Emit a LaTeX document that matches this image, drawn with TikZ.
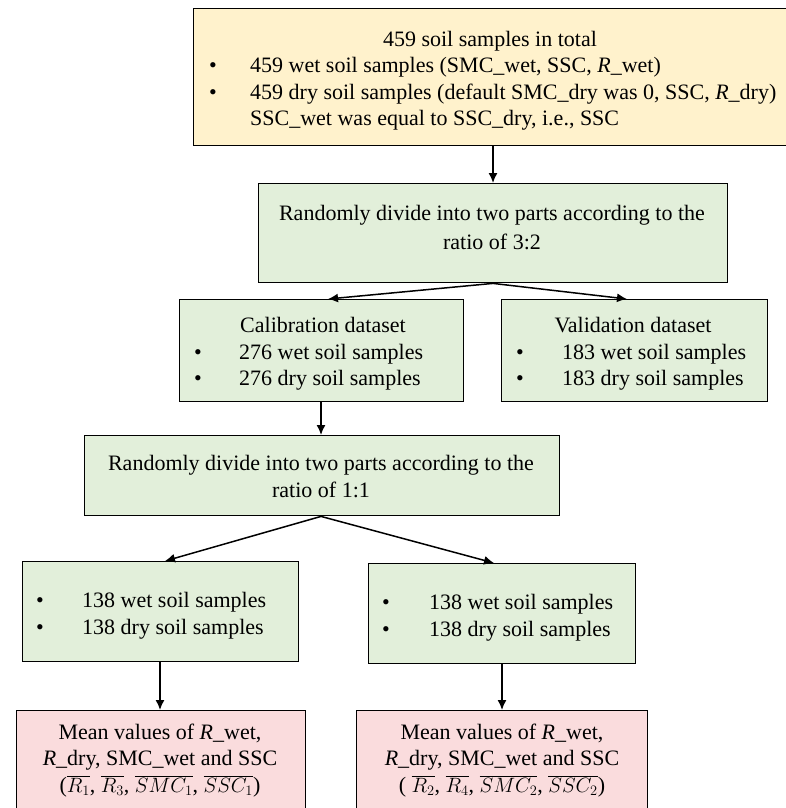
\documentclass[tikz,border=0pt]{standalone}
\usepackage{fontspec}
\setmainfont{Liberation Serif}
\usetikzlibrary{arrows.meta}
\definecolor{yellowfill}{HTML}{FFF2CC}
\definecolor{greenfill}{HTML}{E2EFDA}
\definecolor{pinkfill}{HTML}{FADCDD}
\tikzset{
  boxbase/.style={draw=black, line width=1.4pt, inner sep=0pt},
  ybox/.style={boxbase, fill=yellowfill},
  gbox/.style={boxbase, fill=greenfill},
  pbox/.style={boxbase, fill=pinkfill},
  txt/.style={inner sep=0pt, anchor=base, font=\fontsize{22}{26}\selectfont},
  txtl/.style={txt, anchor=base west},
  arr/.style={-{Latex[length=10pt,width=9pt]}, line width=1.5pt},
}
\begin{document}
\begin{tikzpicture}[x=1pt,y=-1pt]
\useasboundingbox (0,0) rectangle (785,808);
% boxes
\node[ybox, minimum width=597pt, minimum height=137pt, anchor=north west] (top) at (193,8) {};
\node[gbox, minimum width=469pt, minimum height=99pt, anchor=north west] (split) at (258,183) {};
\node[gbox, minimum width=284pt, minimum height=102pt, anchor=north west] (cal) at (179,299) {};
\node[gbox, minimum width=266pt, minimum height=102pt, anchor=north west] (val) at (501,299) {};
\node[gbox, minimum width=475pt, minimum height=80pt, anchor=north west] (splitb) at (84,435) {};
\node[gbox, minimum width=276pt, minimum height=100pt, anchor=north west] (left) at (22,561) {};
\node[gbox, minimum width=267pt, minimum height=100pt, anchor=north west] (right) at (368,563) {};
\node[pbox, minimum width=289pt, minimum height=120pt, anchor=north west] (meanl) at (16,710) {};
\node[pbox, minimum width=291pt, minimum height=120pt, anchor=north west] (meanr) at (356,710) {};
% top texts
\node[txt] (t0) at (490,47) {459 soil samples in total};
\node[txtl] (t1b) at (209,73) {\textbullet};
\node[txtl] (t1) at (250,73) {459 wet soil samples (SMC\_wet, SSC, \textit{R}\_wet)};
\node[txtl] (t2b) at (209,99) {\textbullet};
\node[txtl] (t2) at (250,99) {459 dry soil samples (default SMC\_dry was 0, SSC, \textit{R}\_dry)};
\node[txtl] (t3) at (250,125) {SSC\_wet was equal to SSC\_dry, i.e., SSC};
% split texts
\node[txt] (s1) at (492,220) {Randomly divide into two parts according to the};
\node[txt] (s2) at (492,249) {ratio of 3:2};
% calibration
\node[txt] (c0) at (323,332) {Calibration dataset};
\node[txtl] (c1b) at (194,359) {\textbullet};
\node[txtl] (c1) at (239,359) {276 wet soil samples};
\node[txtl] (c2b) at (194,385) {\textbullet};
\node[txtl] (c2) at (239,385) {276 dry soil samples};
% validation
\node[txt] (v0) at (633,332) {Validation dataset};
\node[txtl] (v1b) at (516,359) {\textbullet};
\node[txtl] (v1) at (562,359) {183 wet soil samples};
\node[txtl] (v2b) at (516,385) {\textbullet};
\node[txtl] (v2) at (562,385) {183 dry soil samples};
% split 1:1
\node[txt] (b1) at (321,470) {Randomly divide into two parts according to the};
\node[txt] (b2) at (321,497) {ratio of 1:1};
% left/right
\node[txtl] (l1b) at (36,607) {\textbullet};
\node[txtl] (l1) at (82,607) {138 wet soil samples};
\node[txtl] (l2b) at (36,634) {\textbullet};
\node[txtl] (l2) at (82,634) {138 dry soil samples};
\node[txtl] (r1b) at (382,609) {\textbullet};
\node[txtl] (r1) at (429,609) {138 wet soil samples};
\node[txtl] (r2b) at (382,636) {\textbullet};
\node[txtl] (r2) at (429,636) {138 dry soil samples};
% mean texts
\node[txt] (ml1) at (160,739) {Mean values of \textit{R}\_wet,};
\node[txt] (ml2) at (160,765) {\textit{R}\_dry, SMC\_wet and SSC};
\node[txt] (ml3) at (160,792) {($\overline{R_1}$, $\overline{R_3}$, $\overline{SMC_1}$, $\overline{SSC_1}$)};
\node[txt] (mr1) at (502,739) {Mean values of \textit{R}\_wet,};
\node[txt] (mr2) at (502,765) {\textit{R}\_dry, SMC\_wet and SSC};
\node[txt] (mr3) at (502,792) {( $\overline{R_2}$, $\overline{R_4}$, $\overline{SMC_2}$, $\overline{SSC_2}$)};
% arrows
\draw[arr] (top.south -| 493,0) -- (split.north -| 493,0);
\draw[arr] (split.south -| 493,0) -- (cal.north -| 328,0);
\draw[arr] (split.south -| 493,0) -- (val.north -| 627,0);
\draw[arr] (cal.south -| 321,0) -- (splitb.north -| 321,0);
\draw[arr] (splitb.south -| 321,0) -- (left.north -| 165,0);
\draw[arr] (splitb.south -| 321,0) -- (right.north -| 494,0);
\draw[arr] (left.south -| 160,0) -- (meanl.north -| 160,0);
\draw[arr] (right.south -| 502,0) -- (meanr.north -| 502,0);
\end{tikzpicture}
\end{document}
